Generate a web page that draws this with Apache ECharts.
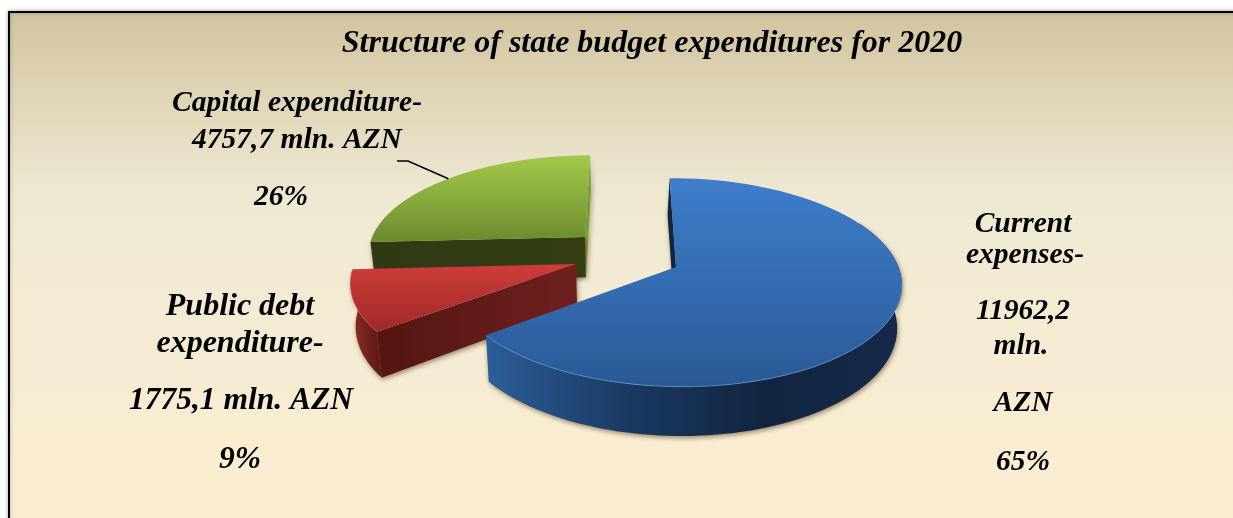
<!DOCTYPE html>
<html>
<head>
<meta charset="utf-8">
<style>
  html, body { margin: 0; padding: 0; background: #ffffff; }
  #chart { width: 1233px; height: 518px; }
</style>
<script src="https://cdn.jsdelivr.net/npm/echarts@6/dist/echarts.min.js"></script>
</head>
<body>
<div id="chart"></div>
<script>
// Budget figures, mln. AZN
const categories = ['Current expenses', 'Public debt expenditure', 'Capital expenditure'];
const amounts = [11962.2, 1775.1, 4757.7];
const shareLabels = ['65%', '9%', '26%'];
const amountLabels = ['11962,2', '1775,1 mln. AZN', '4757,7 mln. AZN'];
const chartTitle = 'Structure of state budget expenditures for 2020';

// Perspective camera for the tilted pie: plane coordinates are in pie radii.
const view = { vx: 637, vy: 267, scaleX: 222.5, scaleY: 102, persp: 0.148, depth: 42, shrink: 0.018, firstAngle: -0.4 };

// Each slice is pulled out of the pie by its own offset in the plane.
const explode = [
  { ox: 39, oy: 0 },
  { ox: -61.3, oy: 0.0296 },
  { ox: -54.4, oy: 0.3075 }
];

const palette = [
  { top: ['#3f7dcc', '#2a5a96'], rim: ['#2c5e98', '#1a3a63', '#12253f', '#16294a'], cut: ['#12253f', '#12253f'], edge: '#5b93d6' },
  { top: ['#cf3c3a', '#9f2a28'], rim: ['#8f2c28', '#5c1715'], cut: ['#541513', '#6f201e'], edge: '#d65a56' },
  { top: ['#a2c94a', '#6c8b2e'], rim: ['#7a9e32', '#7a9e32'], cut: ['#2f3a13', '#333c14'], edge: null }
];

// Back-to-front painting order
const drawOrder = [2, 1, 0];

const total = amounts.reduce((a, b) => a + b, 0);
const sweeps = [];
amounts.reduce((start, v) => {
  const end = start + v / total * Math.PI * 2;
  sweeps.push([start, end]);
  return end;
}, view.firstAngle * Math.PI / 180);

function project(i, radius, angle, low) {
  const e = explode[i];
  const X = view.scaleX * radius * Math.sin(angle) + e.ox;
  const Y = radius * Math.cos(angle) + e.oy;
  const w = 1 + view.persp * Y;
  let sx = X / w;
  let sy = view.vy - view.scaleY * Y / w;
  if (low) {
    sx *= 1 - view.shrink;
    sy += view.depth / w;
  }
  return [view.vx + sx, sy];
}

function rimPoints(i, a0, a1, low) {
  const pts = [];
  const n = 90;
  for (let k = 0; k <= n; k++) {
    pts.push(project(i, 1, a0 + (a1 - a0) * k / n, low));
  }
  return pts;
}

function grad(colors, horizontal) {
  const stops = colors.map((c, k) => ({ offset: k / (colors.length - 1), color: c }));
  return new echarts.graphic.LinearGradient(0, 0, horizontal ? 1 : 0, horizontal ? 0 : 1, stops);
}

const dropShadow = { shadowBlur: 5, shadowColor: 'rgba(70,50,20,0.55)', shadowOffsetX: 1, shadowOffsetY: 2 };

function poly(points, style) {
  return { type: 'polygon', shape: { points }, style };
}

function renderSlice(params, api) {
  const i = api.value(0);
  const [a0, a1] = sweeps[i];
  const c = palette[i];
  const kids = [];

  const apex = project(i, 0, 0, false);
  const apexLow = project(i, 0, 0, true);

  // Side faces first, the top face is laid over them.
  if (i === 0) {
    const startTop = project(i, 1, a0, false);
    const startLow = project(i, 1, a0, true);
    kids.push(poly([startTop, [startLow[0] - 1.5, startLow[1]], [apexLow[0] - 1, apexLow[1]], apex],
      Object.assign({ fill: c.cut[0] }, dropShadow)));
    const a = a0 + 1.1;
    kids.push(poly(rimPoints(i, a, a1, false).concat(rimPoints(i, a, a1, true).reverse()),
      Object.assign({ fill: grad(c.rim, true) }, dropShadow)));
  }
  if (i === 1) {
    const endTop = project(i, 1, a0, false);
    const endLow = project(i, 1, a0, true);
    kids.push(poly(rimPoints(i, a0, a1, false).concat(rimPoints(i, a0, a1, true).reverse()),
      Object.assign({ fill: grad(c.rim, true) }, dropShadow)));
    kids.push(poly([apex, endTop, endLow, apexLow],
      Object.assign({ fill: grad(c.cut, true) }, dropShadow)));
  }
  if (i === 2) {
    const startTop = project(i, 1, a0, false);
    const startLow = project(i, 1, a0, true);
    const endTop = project(i, 1, a1, false);
    const endLow = project(i, 1, a1, true);
    kids.push(poly([apex, endTop, endLow, apexLow],
      Object.assign({ fill: c.rim[0] }, dropShadow)));
    kids.push(poly([apex, startTop, startLow, apexLow],
      Object.assign({ fill: grad(c.cut, true) }, dropShadow)));
  }

  const rim = rimPoints(i, a0, a1, false);
  kids.push(poly([apex].concat(rim), { fill: grad(c.top, false) }));

  // Thin highlight only along the front of the rim
  if (c.edge) {
    const frontStart = Math.max(a0, Math.PI * 0.55);
    kids.push({
      type: 'polyline',
      shape: { points: rimPoints(i, frontStart, a1, false) },
      style: { stroke: c.edge, lineWidth: 1, fill: null, opacity: 0.7 }
    });
  }

  return { type: 'group', children: kids };
}

// Leader from the capital label to the middle of its slice
function leaderPoints() {
  const [a0, a1] = sweeps[2];
  const end = project(2, 1, (a0 + a1) / 2, false);
  return [[397, 161], [408, 161], end];
}

// Label lines: text, centre x, centre y, font size
const labelLines = [
  ['Capital expenditure-', 297, 103, 29.5],
  [amountLabels[2], 297, 140, 29.5],
  [shareLabels[2], 281, 197, 29.5],
  ['Public debt', 240, 307, 32],
  ['expenditure-', 240, 344, 32],
  [amountLabels[1], 241, 401, 31.5],
  [shareLabels[1], 240, 460, 31.5],
  ['Current', 1023, 224, 29.5],
  ['expenses-', 1025, 255, 29.5],
  [amountLabels[0], 1023, 311, 29.5],
  ['mln.', 1021, 346, 29.5],
  ['AZN', 1023, 403, 29.5],
  [shareLabels[0], 1023, 462, 29.5]
];

const serifBold = { fontFamily: '"Liberation Serif"', fontWeight: 'bold', fontStyle: 'italic' };

const chart = echarts.init(document.getElementById('chart'), null, { renderer: 'canvas' });
chart.setOption({
  animation: false,
  backgroundColor: '#ffffff',
  title: {
    text: chartTitle,
    left: 647,
    top: 39,
    textAlign: 'center',
    textVerticalAlign: 'middle',
    textStyle: Object.assign({ fontSize: 32, color: '#000000' }, serifBold)
  },
  graphic: [
    {
      type: 'rect',
      z: -10,
      shape: { x: 9, y: 12, width: 1240, height: 520 },
      style: {
        fill: new echarts.graphic.LinearGradient(0, 0, 0, 1, [
          { offset: 0, color: '#d2c49f' },
          { offset: 0.36, color: '#efe9d4' },
          { offset: 1, color: '#fdeed1' }
        ]),
        stroke: '#000000',
        lineWidth: 2,
        shadowBlur: 4,
        shadowColor: 'rgba(0,0,0,0.3)'
      }
    },
    {
      type: 'polyline',
      z: 5,
      shape: { points: leaderPoints() },
      style: { stroke: '#000000', lineWidth: 1.6, fill: null }
    }
  ].concat(labelLines.map(([text, x, y, size]) => ({
    type: 'text',
    z: 6,
    x, y,
    style: Object.assign({ text, fontSize: size, fill: '#000000', textAlign: 'center', textVerticalAlign: 'middle' }, serifBold)
  }))),
  series: [{
    type: 'custom',
    name: 'Expenditures',
    coordinateSystem: 'none',
    renderItem: renderSlice,
    encode: { value: 1 },
    data: drawOrder.map(i => ({ name: categories[i], value: [i, amounts[i]] }))
  }]
});
</script>
</body>
</html>
